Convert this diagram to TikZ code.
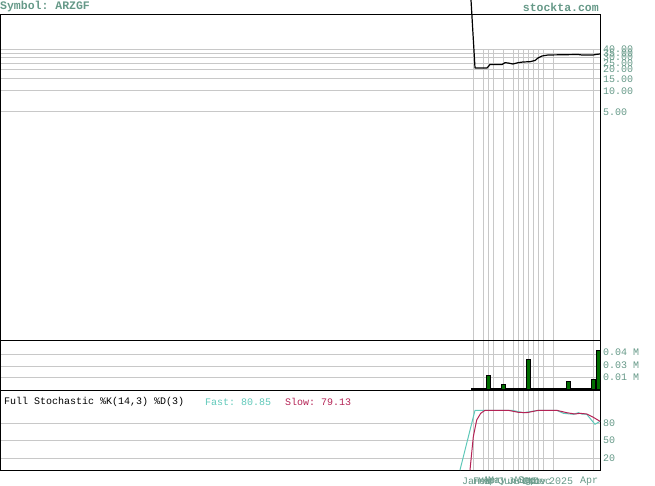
\documentclass[tikz,border=0pt]{standalone}
\usepackage{fontspec}
\setmonofont{Liberation Mono}
\definecolor{labelc}{RGB}{102,153,136}
\definecolor{gridc}{RGB}{200,200,200}
\definecolor{fastc}{RGB}{95,200,185}
\definecolor{slowc}{RGB}{180,35,85}
\definecolor{volc}{RGB}{0,110,0}
\begin{document}
\begin{tikzpicture}[x=1pt,y=-1pt,
  gridline/.style={draw=gridc,line width=1pt},
  frameline/.style={draw=black,line width=1pt},
  axlabel/.style={anchor=west,inner sep=0pt,text=labelc,font=\ttfamily\fontsize{10}{10}\selectfont},
  biglabel/.style={inner sep=0pt,text=labelc,font=\ttfamily\bfseries\fontsize{11.5}{11.5}\selectfont},
  stochtxt/.style={anchor=west,inner sep=0pt,font=\ttfamily\fontsize{10}{10}\selectfont},
  volbar/.style={fill=volc,draw=black,line width=0.8pt}]
\useasboundingbox (0,0) rectangle (655,486);
% horizontal grid lines
\foreach \yy in {50,54,58,64,70,79,91,112,354.7,366,377.7,423,440,458}
  \draw[gridline] (0.5,\yy) -- (600,\yy);
% vertical grid lines
\foreach \xx in {473.3,483.3,488.3,493.3,503.3,513.3,518.3,523.3,528.3,533.3,538.3,543.3,553.3,593.3}
  \draw[gridline] (\xx,50) -- (\xx,470);
% frame
\draw[frameline] (0.5,15) rectangle (600,470);
\draw[frameline] (0.5,340) -- (600,340);
\draw[frameline] (0.5,390) -- (600,390);
% header
\node[biglabel,anchor=west] (sym) at (0,7) {Symbol: ARZGF};
\node[biglabel,anchor=east] (site) at (599,7) {stockta.com};
% price axis labels
\node[axlabel] (p40) at (603,49.5) {40.00};
\node[axlabel] (p35) at (603,53.5) {35.00};
\node[axlabel] (p30) at (603,57.5) {30.00};
\node[axlabel] (p25) at (603,63.5) {25.00};
\node[axlabel] (p20) at (603,69.5) {20.00};
\node[axlabel] (p15) at (603,79) {15.00};
\node[axlabel] (p10) at (603,91) {10.00};
\node[axlabel] (p5) at (603,112) {5.00};
% price line
\draw[black,line width=1.2pt,line join=round] (471,0) -- (475,68) -- (487,68) -- (490,64.5) -- (502,64.5) -- (505,62.7) -- (508,63) -- (513,64) -- (518,62.7) -- (523,62) -- (530,61.7) -- (535,60.5) -- (538,58) -- (542,56) -- (548,55) -- (578,54.5) -- (582,55) -- (593,55) -- (597,54.3) -- (600,54);
% volume
\draw[black,line width=2pt] (471,389) -- (600,389);
\draw[volbar] (486,375) rectangle (490.7,389);
\draw[volbar] (501,384) rectangle (505.7,389);
\draw[volbar] (526,359) rectangle (530.7,389);
\draw[volbar] (566,381) rectangle (570.7,389);
\draw[volbar] (591,379) rectangle (595.7,389);
\draw[volbar] (596,350) rectangle (600.3,389);
\node[axlabel] (v4) at (603,352) {0.04 M};
\node[axlabel] (v3) at (603,365) {0.03 M};
\node[axlabel] (v1) at (603,377) {0.01 M};
% stochastic
\node[stochtxt] (stt) at (4,402) {Full Stochastic \%K(14,3) \%D(3)};
\node[stochtxt,text=fastc] (fast) at (205,402) {Fast: 80.85};
\node[stochtxt,text=slowc] (slow) at (285,402) {Slow: 79.13};
\node[axlabel] (s80) at (603,423) {80};
\node[axlabel] (s50) at (603,440) {50};
\node[axlabel] (s20) at (603,458) {20};
\draw[fastc,line width=1pt] (460,470) -- (475,410.3) -- (512,410.3) -- (523.3,412.7) -- (539,410.3) -- (556.7,410.3) -- (563.3,413.3) -- (573.3,414.3) -- (578.3,412.7) -- (581.7,414) -- (586.7,414.3) -- (595,424.3) -- (600,421.3);
\draw[slowc,line width=1pt] (470,470) -- (473.3,436.7) -- (476.7,420) -- (480.7,413.3) -- (485,410.3) -- (508.3,410.3) -- (518.3,412.3) -- (526.7,412.7) -- (538.3,410.3) -- (556.7,410.3) -- (566.7,412.7) -- (575,414) -- (580,413.3) -- (586.7,414) -- (593.3,417.3) -- (600,421.3);
% month labels
\foreach \xx/\mm [count=\i] in {462/Jan,473/Feb,478/Mar,483/Apr,488/May,498/Jun,508/Jul,513/Aug,518/Sep,523/Oct,528/Nov,533/Dec,549/2025,580/Apr}
  \node[axlabel] (m\i) at (\xx,481) {\mm};
\end{tikzpicture}
\end{document}
